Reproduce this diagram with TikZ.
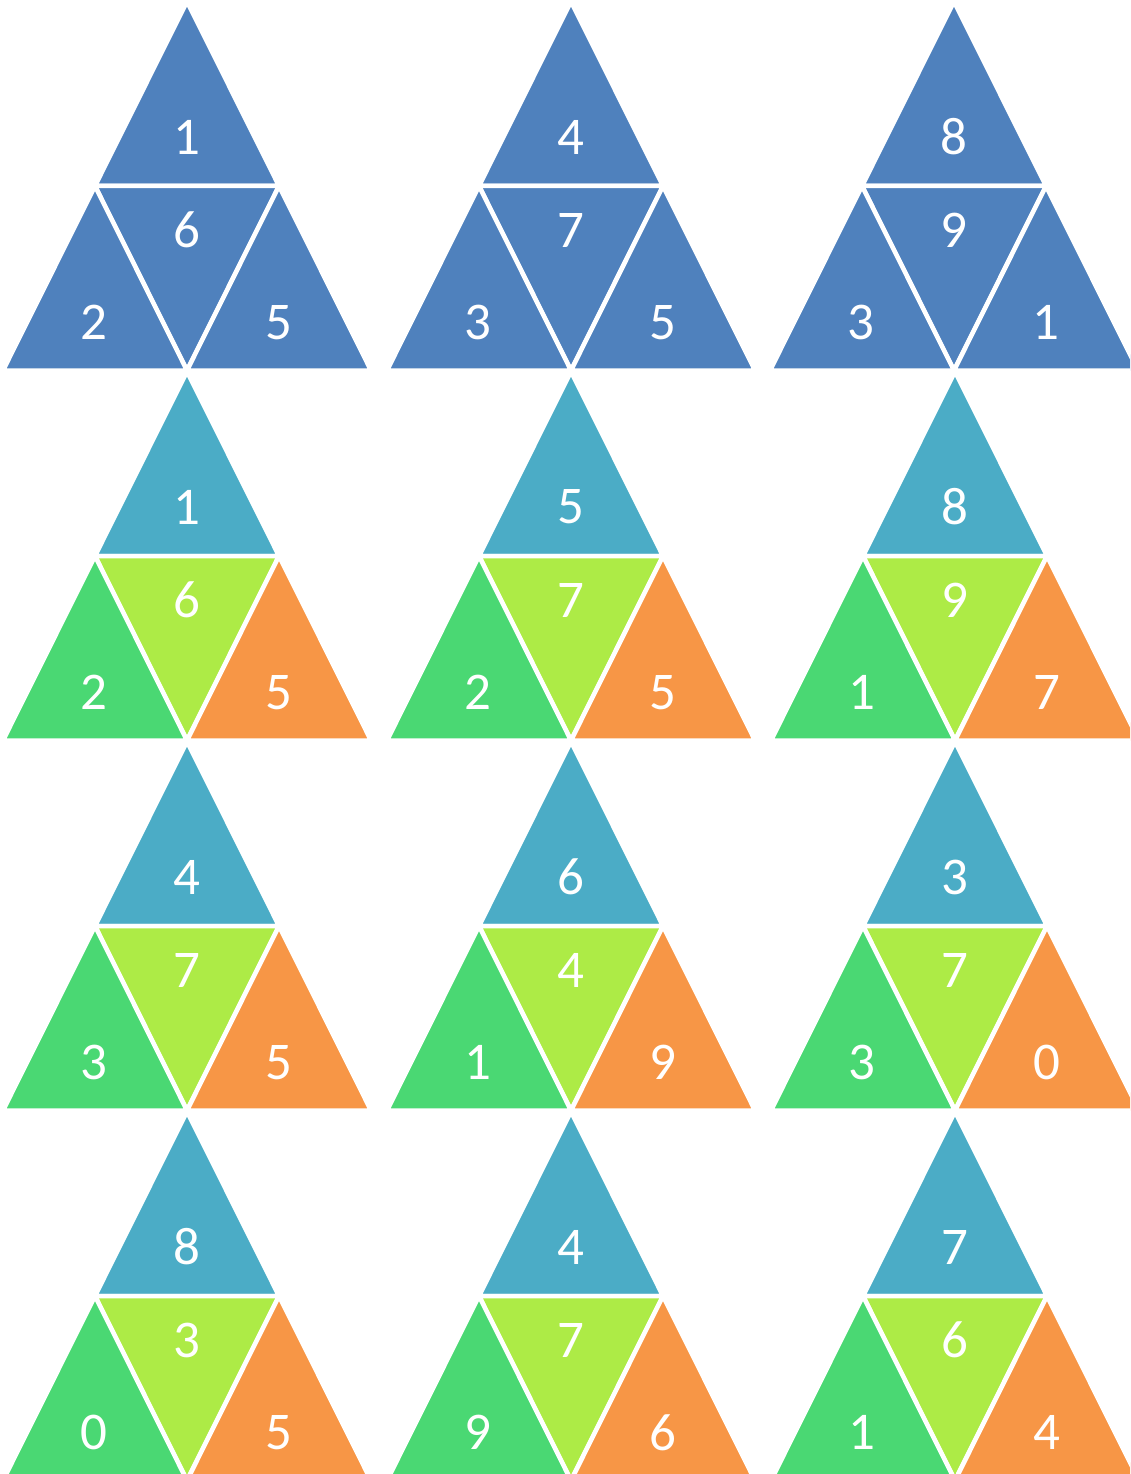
\documentclass[tikz,border=0pt]{standalone}
\usepackage{fontspec}
\setmainfont{Carlito}
\definecolor{top0}{HTML}{4F81BD}
\definecolor{mid0}{HTML}{4F81BD}
\definecolor{left0}{HTML}{4F81BD}
\definecolor{right0}{HTML}{4F81BD}
\definecolor{top1}{HTML}{4BACC6}
\definecolor{mid1}{HTML}{ADEB46}
\definecolor{left1}{HTML}{4AD873}
\definecolor{right1}{HTML}{F79646}

\begin{document}
\begin{tikzpicture}[
  x=1pt, y=-1pt,
  piece/.style={draw=white, line width=4.5pt, line join=miter},
  digit/.style={text=white, inner sep=0pt, font=\fontsize{53}{53}\selectfont},
]
\useasboundingbox (0,0) rectangle (1130,1474);
\clip (0,0) rectangle (1130,1474);

%% Twelve split triangles: centre x / apex y / scheme / top, middle, left, right
\foreach \cx/\ty/\s/\a/\b/\c/\d [count=\i] in {
    187/1.5/0/1/6/2/5, 571/1.5/0/4/7/3/5, 954/1.5/0/8/9/3/1,
    187/371.5/1/1/6/2/5, 571/371.5/1/5/7/2/5, 955/371.5/1/8/9/1/7,
    187/741.5/1/4/7/3/5, 571/741.5/1/6/4/1/9, 955/741.5/1/3/7/3/0,
    187/1111.5/1/8/3/0/5, 571/1111.5/1/4/7/9/6, 955/1111.5/1/7/6/1/4} {
  \filldraw[piece, fill=top\s]   (\cx,\ty) -- (\cx-92,\ty+184.5) -- (\cx+92,\ty+184.5) -- cycle;
  \filldraw[piece, fill=mid\s]   (\cx-92,\ty+184.5) -- (\cx+92,\ty+184.5) -- (\cx,\ty+369) -- cycle;
  \filldraw[piece, fill=left\s]  (\cx-92,\ty+184.5) -- (\cx,\ty+369) -- (\cx-184,\ty+369) -- cycle;
  \filldraw[piece, fill=right\s] (\cx+92,\ty+184.5) -- (\cx+184,\ty+369) -- (\cx,\ty+369) -- cycle;
  \node[digit] (g\i-top)   at (\cx,\ty+135.5)    {\a};
  \node[digit] (g\i-mid)   at (\cx,\ty+228.5)    {\b};
  \node[digit] (g\i-left)  at (\cx-93,\ty+321) {\c};
  \node[digit] (g\i-right) at (\cx+92,\ty+321) {\d};
}

\end{tikzpicture}
\end{document}
